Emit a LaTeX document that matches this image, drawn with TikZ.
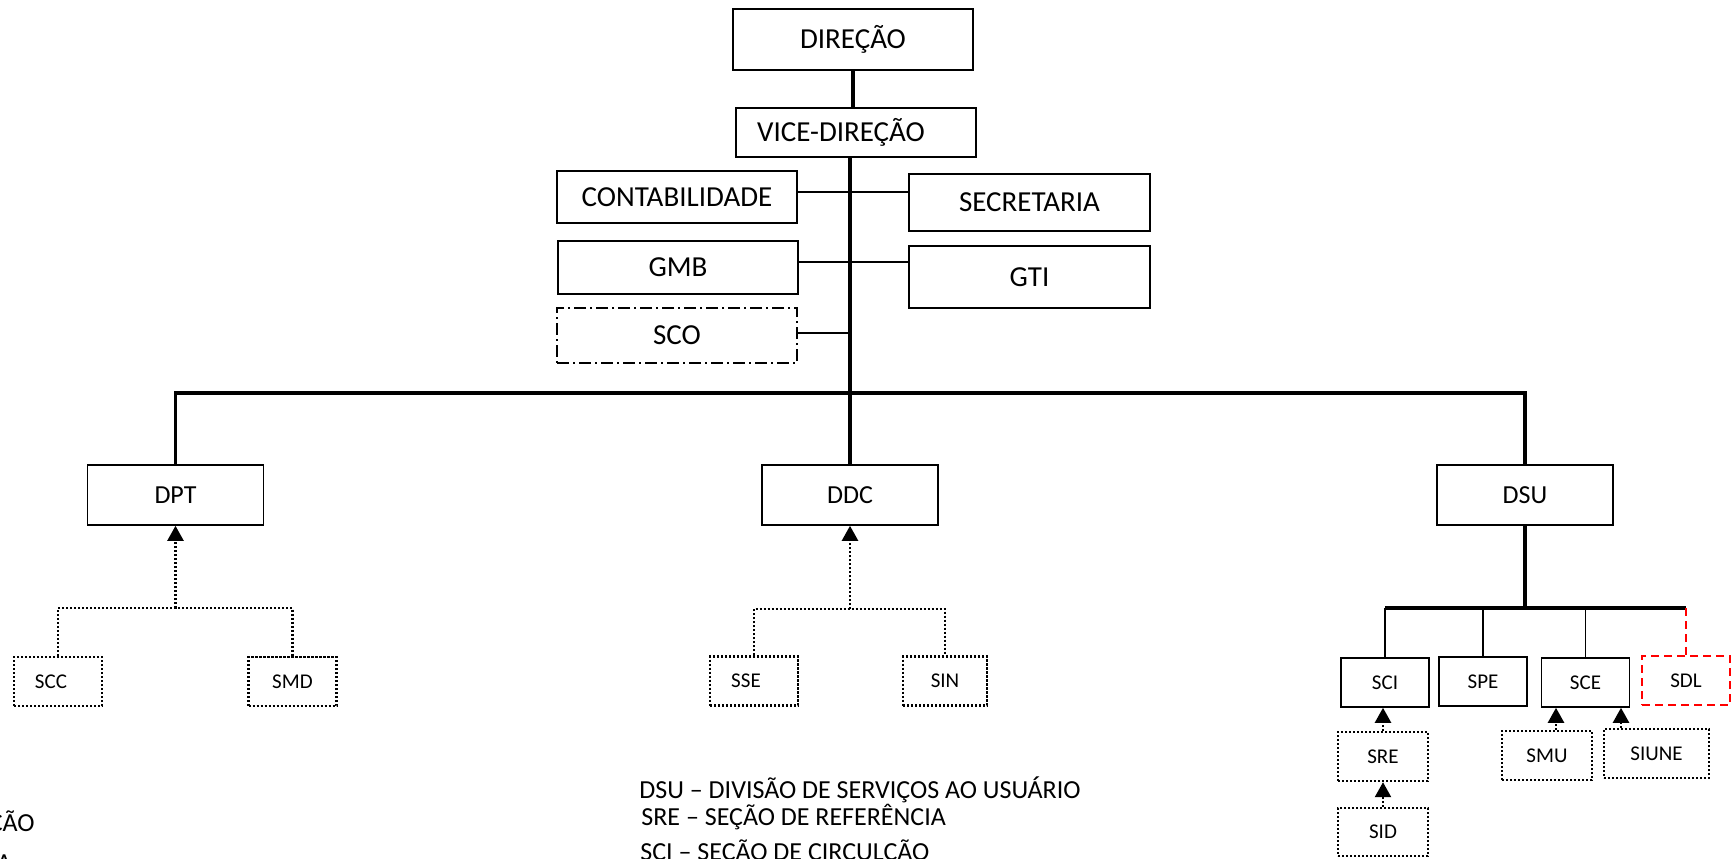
\documentclass[tikz,border=0pt]{standalone}
\usepackage{fontspec}
\setmainfont{Carlito}
\usetikzlibrary{arrows.meta}

\begin{document}
\begin{tikzpicture}[x=0.5pt,y=-0.5pt,
  box/.style={draw,line width=0.8pt,inner sep=0pt,font=\fontsize{14.5}{17}\selectfont},
  divbox/.style={draw,line width=0.8pt,inner sep=0pt,font=\fontsize{13}{15}\selectfont,
    minimum width=88pt,minimum height=30pt},
  secbox/.style={draw,line width=0.8pt,inner sep=0pt,font=\fontsize{10.5}{12}\selectfont,
    minimum width=44pt,minimum height=24.5pt},
  dotbox/.style={secbox,line width=1.2pt,dash pattern=on 1.1pt off 0.9pt},
  trunk/.style={line width=1.6pt},
  branch/.style={line width=0.8pt},
  dotline/.style={line width=1.2pt,dash pattern=on 1.1pt off 0.9pt},
  uparrow/.style={dotline,-{Triangle[length=7.5pt,width=8pt]}},
  legend/.style={font=\fontsize{13}{15}\selectfont,inner sep=0pt,anchor=base west}]

  \useasboundingbox (0,0) rectangle (1731,858);
  \clip (0,0) rectangle (1731,858);

  % direction and staff
  \node[box,minimum width=120pt,minimum height=30.5pt] (dir) at (853,39.5) {DIREÇÃO};
  \node[box,minimum width=120pt,minimum height=24.5pt] (vice) at (856,132.5) {VICE-DIREÇÃO\hspace*{15pt}};
  \node[box,minimum width=120pt,minimum height=26pt] (contab) at (677,197) {CONTABILIDADE};
  \node[box,minimum width=120.5pt,minimum height=28.5pt] (secr) at (1029.5,202.5) {SECRETARIA};
  \node[box,minimum width=120pt,minimum height=26.5pt] (gmb) at (678,267.5) {GMB};
  \node[box,minimum width=120.5pt,minimum height=31pt] (gti) at (1029.5,277) {GTI};
  \node[box,minimum width=120pt,minimum height=27.5pt,line width=0.6pt,
    dash pattern=on 6pt off 2pt on 1pt off 2pt] (sco) at (677,335.5) {SCO};

  % divisions
  \node[divbox] (dpt) at (175.5,495) {DPT};
  \node[divbox] (ddc) at (850,495) {DDC};
  \node[divbox] (dsu) at (1525,495) {DSU};

  % sections
  \node[dotbox] (scc) at (58,681.5) {SCC\hspace*{7pt}};
  \node[dotbox] (smd) at (292.5,681.5) {SMD};
  \node[dotbox] (sse) at (754,681) {SSE\hspace*{8pt}};
  \node[dotbox,minimum width=42pt] (sin) at (945,681) {SIN};
  \node[secbox] (sci) at (1385,682.5) {SCI};
  \node[secbox] (spe) at (1483,681.5) {SPE};
  \node[secbox] (sce) at (1585.5,682.5) {SCE};
  \node[secbox,draw=red,line width=1pt,dash pattern=on 4pt off 2.5pt] (sdl) at (1686,680.5) {SDL};
  \node[dotbox,minimum width=45pt] (sre) at (1383,756.5) {SRE};
  \node[dotbox,minimum width=45pt,minimum height=24pt] (sid) at (1383,832) {SID};
  \node[dotbox,minimum width=45pt] (smu) at (1547,755.5) {SMU};
  \node[dotbox,minimum width=52.5pt] (siune) at (1656.5,753.5) {SIUNE};

  % main line
  \draw[trunk] (dir.south) -- (dir.south |- vice.north);
  \draw[trunk] (ddc.north |- vice.south) -- (ddc.north);
  \draw[branch] ([yshift=2.5pt]contab.east) -- ([yshift=2.5pt]contab.east -| secr.west);
  \draw[branch] ([yshift=2.75pt]gmb.east) -- ([yshift=2.75pt]gmb.east -| gti.west);
  \draw[branch] ([yshift=1.25pt]sco.east) -- ([yshift=1.25pt]sco.east -| ddc.north);
  \coordinate (bar) at (850,393);
  \draw[trunk] (dpt.north) |- (bar) -| (dsu.north);

  % sections under DPT and DDC
  \coordinate (dptsub) at (175.5,608);
  \draw[dotline] (scc.north) |- (dptsub) -| (smd.north);
  \draw[uparrow] (dptsub) -- (dpt.south);
  \coordinate (ddcsub) at (850,609);
  \draw[dotline] (sse.north) |- (ddcsub) -| (sin.north);
  \draw[uparrow] (ddcsub) -- (ddc.south);

  % sections under DSU
  \coordinate (dsusub) at (1525,608);
  \draw[trunk] (dsu.south) -- (dsusub);
  \draw[trunk] (sci.north |- dsusub) -- (sdl.north |- dsusub);
  \foreach \n in {sci,spe,sce}
    \draw[branch] (\n.north) -- (\n.north |- dsusub);
  \draw[red,line width=1pt,dash pattern=on 4pt off 2.5pt] (sdl.north |- dsusub) -- (sdl.north);
  \draw[uparrow] (sre.north) -- (sre.north |- sci.south);
  \draw[uparrow] (sid.north) -- (sid.north |- sre.south);
  \draw[uparrow] ([xshift=4.5pt]smu.north) -- ([xshift=4.5pt]smu.north |- sce.south);
  \draw[uparrow] ([xshift=-17.75pt]siune.north) -- ([xshift=-17.75pt]siune.north |- sce.south);

  % legend
  \node[legend] (ldsu) at (639,798) {DSU – DIVISÃO DE SERVIÇOS AO USUÁRIO};
  \node[legend] (lsre) at (641,825) {SRE – SEÇÃO DE REFERÊNCIA};
  \node[legend] (lsci) at (640,860) {SCI – SEÇÃO DE CIRCULÇÃO};
  \node[legend,anchor=base east] (lcao) at (35,831) {ÇÃO};
  \node[legend,anchor=base east] (la) at (12,871) {A};
\end{tikzpicture}
\end{document}
